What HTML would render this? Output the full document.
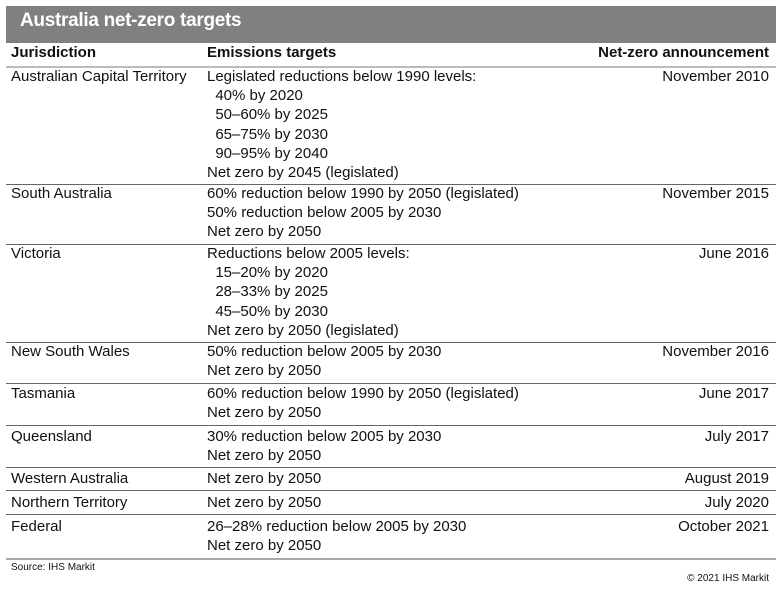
<!DOCTYPE html>
<html><head><meta charset="utf-8"><style>
body{margin:0;width:782px;height:609px;background:#fff;position:relative;font-family:"Liberation Sans",Arial,sans-serif;color:#111;overflow:hidden}
.t{position:absolute;font-size:15px;line-height:19.2px;white-space:pre}
.c1{left:11px}.c2{left:207px}.c3{right:13px;text-align:right}
.ln{position:absolute;left:6px;width:770px;height:1px;background:#666}
</style></head><body>
<div style="position:absolute;left:6px;top:6px;width:770px;height:37px;background:#808080"></div>
<div style="position:absolute;left:20px;top:10px;color:#fff;font-weight:bold;font-size:19px;letter-spacing:-0.3px">Australia net-zero targets</div>
<div class="t c1" style="top:43px;font-weight:bold">Jurisdiction</div>
<div class="t c2" style="top:43px;font-weight:bold">Emissions targets</div>
<div class="t c3" style="top:43px;font-weight:bold">Net-zero announcement</div>
<div class="ln" style="top:66px;height:2px;background:#bbb"></div>

<div class="t c1" style="top:67px">Australian Capital Territory</div>
<div class="t c2" style="top:67px">Legislated reductions below 1990 levels:
  40% by 2020
  50–60% by 2025
  65–75% by 2030
  90–95% by 2040
Net zero by 2045 (legislated)</div>
<div class="t c3" style="top:67px">November 2010</div>
<div class="ln" style="top:184px"></div>

<div class="t c1" style="top:184px">South Australia</div>
<div class="t c2" style="top:184px">60% reduction below 1990 by 2050 (legislated)
50% reduction below 2005 by 2030
Net zero by 2050</div>
<div class="t c3" style="top:184px">November 2015</div>
<div class="ln" style="top:244px"></div>

<div class="t c1" style="top:244px">Victoria</div>
<div class="t c2" style="top:244px">Reductions below 2005 levels:
  15–20% by 2020
  28–33% by 2025
  45–50% by 2030
Net zero by 2050 (legislated)</div>
<div class="t c3" style="top:244px">June 2016</div>
<div class="ln" style="top:342px"></div>

<div class="t c1" style="top:342px">New South Wales</div>
<div class="t c2" style="top:342px">50% reduction below 2005 by 2030
Net zero by 2050</div>
<div class="t c3" style="top:342px">November 2016</div>
<div class="ln" style="top:383px"></div>

<div class="t c1" style="top:384px">Tasmania</div>
<div class="t c2" style="top:384px">60% reduction below 1990 by 2050 (legislated)
Net zero by 2050</div>
<div class="t c3" style="top:384px">June 2017</div>
<div class="ln" style="top:425px"></div>

<div class="t c1" style="top:427px">Queensland</div>
<div class="t c2" style="top:427px">30% reduction below 2005 by 2030
Net zero by 2050</div>
<div class="t c3" style="top:427px">July 2017</div>
<div class="ln" style="top:467px"></div>

<div class="t c1" style="top:469px">Western Australia</div>
<div class="t c2" style="top:469px">Net zero by 2050</div>
<div class="t c3" style="top:469px">August 2019</div>
<div class="ln" style="top:490px"></div>

<div class="t c1" style="top:493px">Northern Territory</div>
<div class="t c2" style="top:493px">Net zero by 2050</div>
<div class="t c3" style="top:493px">July 2020</div>
<div class="ln" style="top:514px"></div>

<div class="t c1" style="top:517px">Federal</div>
<div class="t c2" style="top:517px">26–28% reduction below 2005 by 2030
Net zero by 2050</div>
<div class="t c3" style="top:517px">October 2021</div>
<div class="ln" style="top:558px;height:2px;background:#aaa"></div>

<div style="position:absolute;left:11px;top:562px;font-size:10px">Source: IHS Markit</div>
<div style="position:absolute;right:13px;top:573px;font-size:10px">© 2021 IHS Markit</div>
</body></html>
